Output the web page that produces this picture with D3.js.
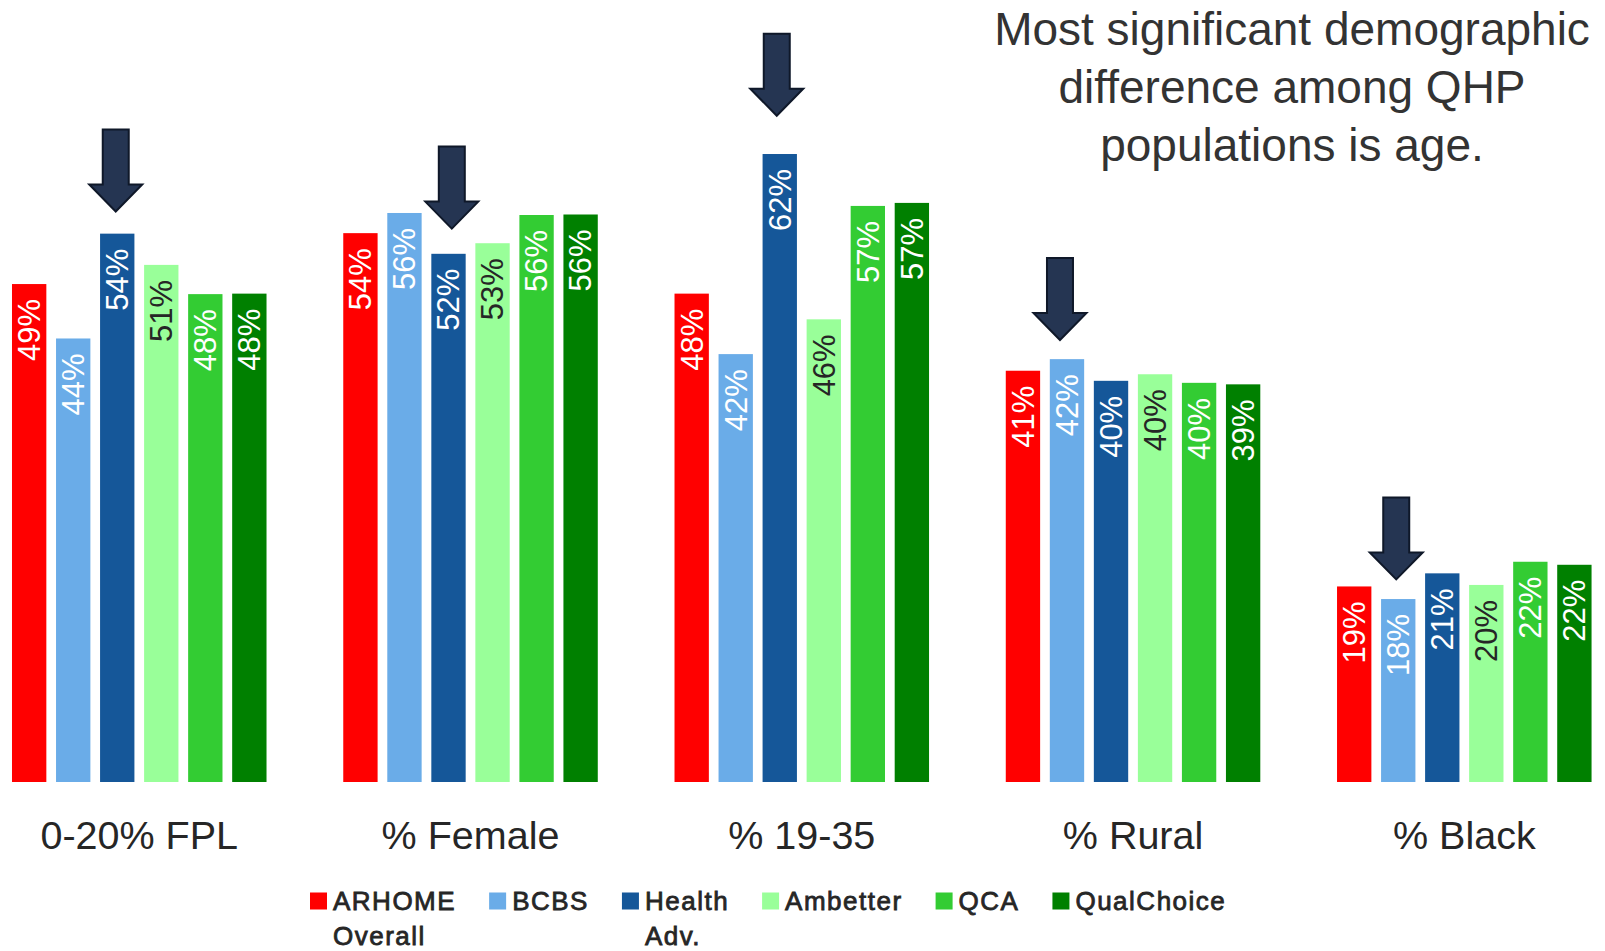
<!DOCTYPE html>
<html>
<head>
<meta charset="utf-8">
<script src="https://cdn.jsdelivr.net/npm/d3@7/dist/d3.min.js"></script>
<style>
  html, body { margin: 0; padding: 0; background: #ffffff; }
  svg { display: block; }
</style>
</head>
<body>
<svg id="chart" width="1605" height="951"></svg>
<script>
// ---------------- data ----------------
const categories = ["0-20% FPL", "% Female", "% 19-35", "% Rural", "% Black"];
const series = ["ARHOME Overall", "BCBS", "Health Adv.", "Ambetter", "QCA", "QualChoice"];
const legendLabels = [["ARHOME", "Overall"], ["BCBS"], ["Health", "Adv."], ["Ambetter"], ["QCA"], ["QualChoice"]];
const arhomeOverall = [49.4, 54.45, 48.45, 40.8, 19.4];
const bcbs          = [44.0, 56.45, 42.45, 41.95, 18.15];
const healthAdv     = [54.4, 52.4, 62.3, 39.8, 20.7];
const ambetter      = [51.3, 53.45, 45.9, 40.45, 19.55];
const qca           = [48.4, 56.25, 57.15, 39.6, 21.85];
const qualChoice    = [48.45, 56.3, 57.45, 39.45, 21.55];
const titleLines = ["Most significant demographic", "difference among QHP", "populations is age."];
// annotation arrows: which bar they point at, and where the tip sits (in % units)
const arrowNotes = [
  { category: "0-20% FPL", series: "Health Adv.", tip: 56.6, dx: -1.5 },
  { category: "% Female",  series: "Health Adv.", tip: 54.9, dx: 3.3 },
  { category: "% 19-35",   series: "Health Adv.", tip: 66.1, dx: -3 },
  { category: "% Rural",   series: "BCBS",        tip: 43.85, dx: -7 },
  { category: "% Black",   series: "BCBS",        tip: 20.1, dx: -2 }
];

const seriesValues = [arhomeOverall, bcbs, healthAdv, ambetter, qca, qualChoice];
const colors = ["#FF0000", "#6AACE8", "#155799", "#99FF99", "#33CC33", "#008000"];
const labelColors = ["#ffffff", "#ffffff", "#ffffff", "#262626", "#ffffff", "#ffffff"];

const rows = categories.map((c, i) => ({
  category: c,
  values: series.map((s, j) => ({ series: s, idx: j, value: seriesValues[j][i] }))
}));

// ---------------- scales ----------------
const svg = d3.select("#chart");
const baseY = 782;
const y = d3.scaleLinear().domain([0, 70]).range([baseY, baseY - 70 * 10.08]);
const x0 = d3.scaleBand().domain(categories).range([7.15, 1596.4]).paddingInner(0.2024).paddingOuter(0);
const x1 = d3.scaleBand().domain(series).range([0, x0.bandwidth()]).paddingInner(0.22).paddingOuter(0.11);
const color = d3.scaleOrdinal().domain(series).range(colors);
const labelColor = d3.scaleOrdinal().domain(series).range(labelColors);

const FONT = "'Liberation Sans', Arial, sans-serif";

// ---------------- bars ----------------
const groups = svg.append("g").selectAll("g.group")
  .data(rows).join("g")
  .attr("class", "group")
  .attr("transform", d => `translate(${x0(d.category)},0)`);

groups.selectAll("rect")
  .data(d => d.values).join("rect")
  .attr("x", d => x1(d.series))
  .attr("y", d => y(d.value))
  .attr("width", x1.bandwidth())
  .attr("height", d => y(0) - y(d.value))
  .attr("fill", d => color(d.series));

// value labels (rotated, inside top of bar)
groups.selectAll("text.val")
  .data(d => d.values).join("text")
  .attr("class", "val")
  .attr("transform", d => `translate(${x1(d.series) + x1.bandwidth() / 2},${y(d.value) + 15}) rotate(-90)`)
  .attr("text-anchor", "end")
  .attr("dy", "0.35em")
  .attr("font-family", FONT)
  .attr("font-size", 31)
  .attr("fill", d => labelColor(d.series))
  .text(d => Math.round(d.value) + "%");

// ---------------- category axis ----------------
const xAxis = d3.axisBottom(x0).tickSize(0).tickPadding(0);
const axisG = svg.append("g").attr("transform", `translate(0,${baseY})`).call(xAxis);
axisG.select(".domain").remove();
axisG.selectAll(".tick text")
  .attr("y", 67)
  .attr("dy", 0)
  .attr("font-family", FONT)
  .attr("font-size", 39.5)
  .attr("fill", "#262626");

// ---------------- arrows ----------------
const arrowPath = "M-13,-82 L13,-82 L13,-27 L26.5,-27 L0,0 L-26.5,-27 L-13,-27 Z";
svg.append("g").selectAll("path.arrow")
  .data(arrowNotes).join("path")
  .attr("class", "arrow")
  .attr("d", arrowPath)
  .attr("transform", d => `translate(${x0(d.category) + x1(d.series) + x1.bandwidth() / 2 + d.dx},${y(d.tip)})`)
  .attr("fill", "#253552")
  .attr("stroke", "#0f1829")
  .attr("stroke-width", 2)
  .attr("stroke-linejoin", "miter");

// ---------------- title ----------------
svg.append("text")
  .attr("x", 1292)
  .attr("y", 45.3)
  .attr("text-anchor", "middle")
  .attr("font-family", FONT)
  .attr("font-size", 46)
  .attr("fill", "#333333")
  .selectAll("tspan")
  .data(titleLines).join("tspan")
  .attr("x", 1292)
  .attr("dy", (d, i) => i === 0 ? 0 : 57.8)
  .text(d => d);

// ---------------- legend ----------------
const legend = svg.append("g").attr("transform", "translate(310,0)");
let lx = 0;
legendLabels.forEach((lines, i) => {
  const item = legend.append("g").attr("transform", `translate(${lx},0)`);
  item.append("rect")
    .attr("x", 0).attr("y", 892.5)
    .attr("width", 17).attr("height", 17)
    .attr("fill", color(series[i]));
  const t = item.append("text")
    .attr("x", 23).attr("y", 910)
    .attr("font-family", FONT)
    .attr("font-size", 26)
    .attr("letter-spacing", 1.5)
    .attr("fill", "#262626")
    .attr("stroke", "#262626")
    .attr("stroke-width", 0.8);
  t.selectAll("tspan").data(lines).join("tspan")
    .attr("x", 23)
    .attr("dy", (d, k) => k === 0 ? 0 : 35)
    .text(d => d);
  const firstW = t.select("tspan").node().getComputedTextLength();
  lx += 23 + firstW + 33;
});
</script>
</body>
</html>
